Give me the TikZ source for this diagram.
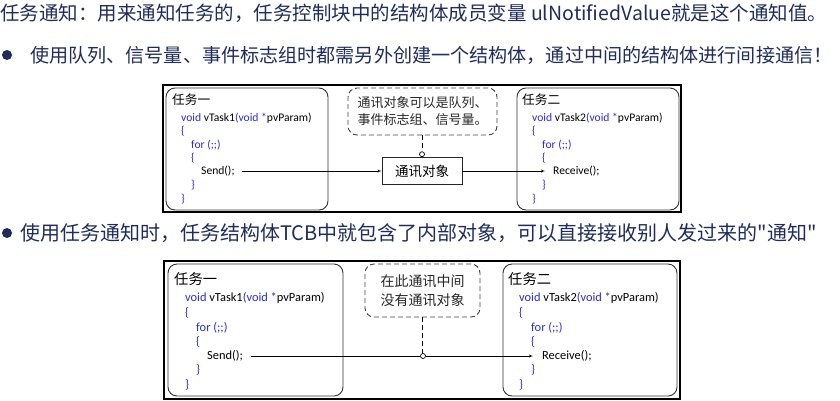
\documentclass[tikz,border=0pt]{standalone}
\usepackage{fontspec}
\setmainfont{Noto Sans CJK SC}
\newfontfamily\quotefont{Noto Sans CJK SC}
\newfontfamily\codefont{Carlito}
\usetikzlibrary{positioning, arrows}
\definecolor{navy}{HTML}{1F2C5C}
\definecolor{kwblue}{HTML}{2B2BD0}
\newcommand{\kw}[1]{\textcolor{kwblue}{#1}}
\tikzset {
    >=latex',
    frame/.style={draw=black, line width=1.4pt},
    taskbox/.style={draw=black!80, line width=0.9pt, rounded corners=9pt},
    callout/.style={draw=black!75, dash pattern=on 5pt off 3pt, line width=0.9pt, rounded corners=9pt, align=center, text=black!85},
    objbox/.style={draw=black!85, line width=0.9pt, inner sep=0pt},
    tip/.style={circle, draw=black, fill=white, line width=0.7pt, minimum size=5pt, inner sep=0pt},
    bullet/.style={circle, fill=navy, minimum size=10pt, inner sep=0pt},
    heading/.style={anchor=west, inner sep=0pt, text=navy},
    codeA/.style={anchor=west, inner sep=0pt, font=\codefont\fontsize{11.6}{12}\selectfont},
    codeB/.style={anchor=west, inner sep=0pt, font=\codefont\fontsize{12.4}{13}\selectfont},
    labelA/.style={anchor=west, inner sep=0pt, font=\fontsize{12.7}{13}\selectfont},
    labelB/.style={anchor=west, inner sep=0pt, font=\fontsize{14.3}{15}\selectfont}
}

\begin{document}
\begin{tikzpicture}[x=1pt, y=-1pt]
    \useasboundingbox (0,0) rectangle (840,400);

    % headings
    \node[heading, font=\fontsize{19.5}{20}\selectfont] (title) at (0,13) {任务通知：用来通知任务的，任务控制块中的结构体成员变量 ulNotifiedValue就是这个通知值。};
    \node[bullet] (dotA) at (7,55) {};
    \node[heading, font=\fontsize{19.1}{20}\selectfont] (lineA) at (30,55) {使用队列、信号量、事件标志组时都需另外创建一个结构体，通过中间的结构体进行间接通信！};
    \node[bullet] (dotB) at (7,233) {};
    \node[heading, font=\fontsize{20}{21}\selectfont] (lineB) at (20,233) {使用任务通知时，任务结构体TCB中就包含了内部对象，可以直接接收别人发过来的{\quotefont"}通知{\quotefont"}};

    % upper diagram
    \draw[frame] (163,85) rectangle (681,212);
    \draw[taskbox] (166,88) rectangle (328,210);
    \draw[taskbox] (517,88) rectangle (679,210);

    \node[labelA] (taskA) at (172,100) {任务一};
    \node[codeA] (headA) at (181,118) {\kw{void} vTask1\kw{(void *}pvParam)};
    \node[codeA] (openA) at (181,131) {\kw{\{}};
    \node[codeA] (forA) at (191,145) {\kw{for (;;)}};
    \node[codeA] (loopA) at (191,158) {\kw{\{}};
    \node[codeA] (sendA) at (201,171) {Send();};
    \node[codeA] (endloopA) at (191,185) {\kw{\}}};
    \node[codeA] (closeA) at (181,199) {\kw{\}}};

    \node[labelA] (taskB) at (522,100) {任务二};
    \node[codeA] (headB) at (532,118) {\kw{void} vTask2\kw{(void *}pvParam)};
    \node[codeA] (openB) at (532,131) {\kw{\{}};
    \node[codeA] (forB) at (542,145) {\kw{for (;;)}};
    \node[codeA] (loopB) at (542,158) {\kw{\{}};
    \node[codeA] (recvA) at (553,171) {Receive();};
    \node[codeA] (endloopB) at (542,185) {\kw{\}}};
    \node[codeA] (closeB) at (532,199) {\kw{\}}};

    \node[callout, minimum width=149pt, minimum height=47pt, font=\fontsize{13}{17}\selectfont] (noteA) at (422.5,111.5) {通讯对象可以是队列、\\事件标志组、信号量。};
    \node[objbox, minimum width=80pt, minimum height=27pt, font=\fontsize{13.5}{14}\selectfont] (obj) at (422,171) {通讯对象};
    \node[tip, above=0pt of obj.north] (tipA) {};

    \draw[->] ([xshift=7pt]sendA.east) -- (sendA.east -| obj.west);
    \draw[->] (obj.east) -- ([xshift=-8pt]recvA.west);
    \draw[dash pattern=on 5pt off 3pt, line width=0.9pt] (noteA.south) -- (noteA.south |- tipA.north);

    % lower diagram
    \draw[frame] (164,261) rectangle (680,399);
    \draw[taskbox] (168,264) rectangle (343,396);
    \draw[taskbox] (503,264) rectangle (677,396);

    \node[labelB] (taskC) at (174,279) {任务一};
    \node[codeB] (headC) at (185,298) {\kw{void} vTask1\kw{(void *}pvParam)};
    \node[codeB] (openC) at (185,313) {\kw{\{}};
    \node[codeB] (forC) at (196,328) {\kw{for (;;)}};
    \node[codeB] (loopC) at (196,342) {\kw{\{}};
    \node[codeB] (sendB) at (207,356) {Send();};
    \node[codeB] (endloopC) at (196,370) {\kw{\}}};
    \node[codeB] (closeC) at (185,385) {\kw{\}}};

    \node[labelB] (taskD) at (508,279) {任务二};
    \node[codeB] (headD) at (519,298) {\kw{void} vTask2\kw{(void *}pvParam)};
    \node[codeB] (openD) at (519,313) {\kw{\{}};
    \node[codeB] (forD) at (531,328) {\kw{for (;;)}};
    \node[codeB] (loopD) at (531,342) {\kw{\{}};
    \node[codeB] (recvB) at (542,356) {Receive();};
    \node[codeB] (endloopD) at (531,370) {\kw{\}}};
    \node[codeB] (closeD) at (519,385) {\kw{\}}};

    \node[callout, minimum width=115pt, minimum height=53pt, font=\fontsize{14}{19}\selectfont] (noteB) at (422.5,290.5) {在此通讯中间\\没有通讯对象};
    \node[tip] (tipB) at (423,356) {};

    \draw ([xshift=8pt]sendB.east) -- (tipB.west);
    \draw[->] (tipB.east) -- ([xshift=-9pt]recvB.west);
    \draw[dash pattern=on 5pt off 3pt, line width=0.9pt] (noteB.south) -- (noteB.south |- tipB.north);
\end{tikzpicture}
\end{document}
